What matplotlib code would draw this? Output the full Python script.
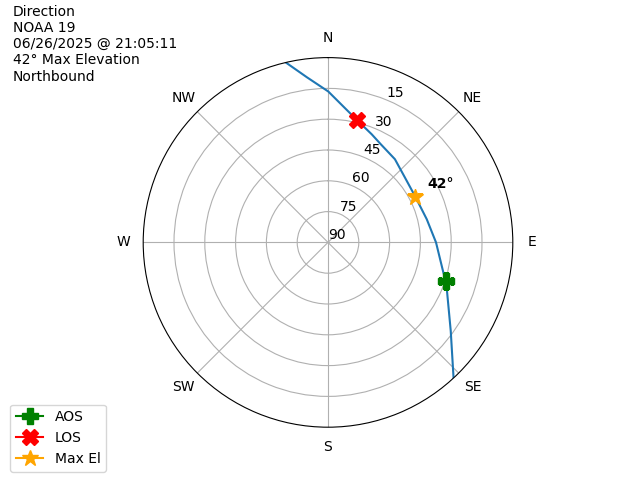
import numpy as np
import matplotlib
matplotlib.use("Agg")
import matplotlib.pyplot as plt

# Pass track (azimuth in degrees, elevation in degrees)
track_az = [346.8, 352.7, 0.1, 13.2, 22.0, 28.2, 38.8, 49.9, 62.4, 76.8, 90.0, 104.7, 107.9, 125.8, 137.2]
track_el = [0.0, 8.9, 16.5, 28.7, 33.2, 35.7, 38.0, 41.0, 42.0, 40.6, 37.4, 31.9, 29.6, 16.3, 0.0]

# Key points
aos_az, aos_el = 107.9, 29.6
los_az, los_el = 13.2, 28.7
max_az, max_el = 62.4, 42.0

info = "Direction\nNOAA 19\n06/26/2025 @ 21:05:11\n42° Max Elevation\nNorthbound"

dirs = ["N", "NE", "E", "SE", "S", "SW", "W", "NW"]
r_ticks = [0, 15, 30, 45, 60, 75]
r_labels = ["90", "75", "60", "45", "30", "15"]

fig = plt.figure(figsize=(6.4, 4.8), dpi=100)
ax = fig.add_subplot(111, projection="polar")
ax.set_theta_zero_location("N")
ax.set_theta_direction(-1)

# unwrap so the line does not go the long way round past north
theta = np.unwrap(np.radians(track_az))
ax.plot(theta, 90 - np.array(track_el), color="tab:blue")

ax.plot([np.radians(aos_az)], [90 - aos_el], marker="P", color="green", markersize=12, label="AOS")
ax.plot([np.radians(los_az)], [90 - los_el], marker="X", color="red", markersize=12, label="LOS")
ax.plot([np.radians(max_az)], [90 - max_el], marker="*", color="orange", markersize=12, label="Max El")
ax.annotate(f"{max_el:.0f}°", (np.radians(max_az), 90 - max_el), xytext=(9, 4),
            textcoords="offset points", ha="left", va="bottom", fontweight="bold")

ax.set_ylim(0, 90)
ax.set_yticks(r_ticks)
ax.set_yticklabels(r_labels)
ax.set_xticks(np.radians(np.arange(0, 360, 45)))
ax.set_xticklabels(dirs)

fig.text(0.02, 0.99, info, ha="left", va="top", fontsize=10)
fig.legend(loc="lower left", bbox_to_anchor=(0.005, 0.003))

fig.savefig("out.png")
